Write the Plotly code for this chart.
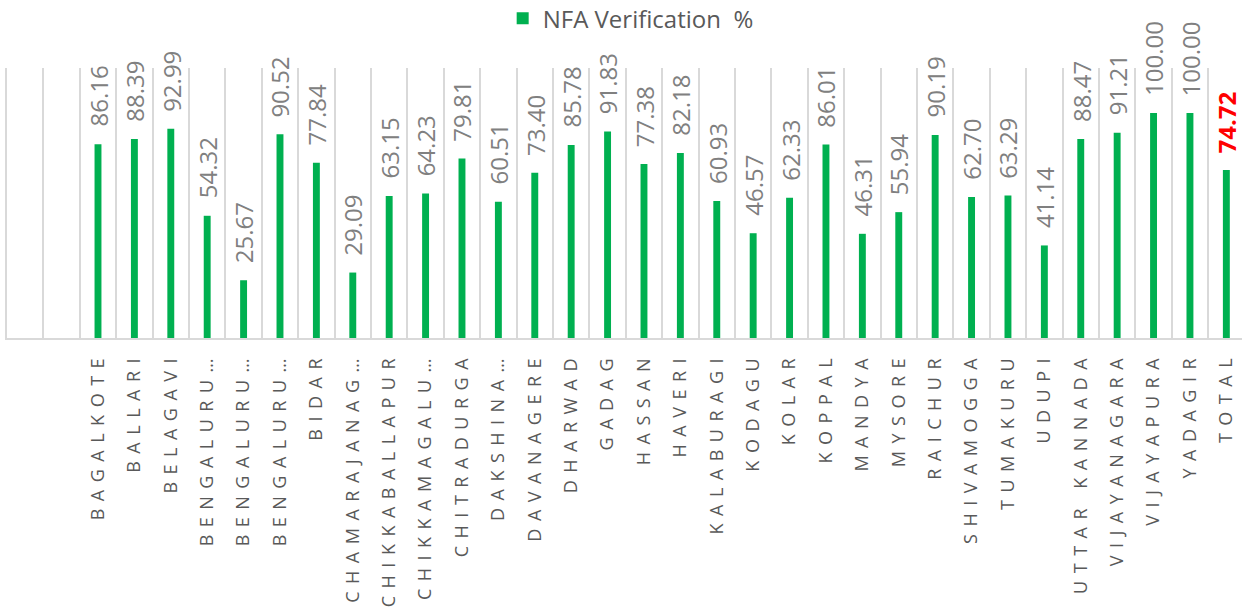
import plotly.graph_objects as go

categories = ["", " ", "BAGALKOTE", "BALLARI", "BELAGAVI", "BENGALURU…", "BENGALURU…", "BENGALURU…",
              "BIDAR", "CHAMARAJANAG…", "CHIKKABALLAPUR", "CHIKKAMAGALU…", "CHITRADURGA", "DAKSHINA…",
              "DAVANAGERE", "DHARWAD", "GADAG", "HASSAN", "HAVERI", "KALABURAGI", "KODAGU", "KOLAR",
              "KOPPAL", "MANDYA", "MYSORE", "RAICHUR", "SHIVAMOGGA", "TUMAKURU", "UDUPI",
              "UTTAR KANNADA", "VIJAYANAGARA", "VIJAYAPURA", "YADAGIR", "TOTAL"]
values = [None, None, 86.16, 88.39, 92.99, 54.32, 25.67, 90.52, 77.84, 29.09, 63.15, 64.23, 79.81,
          60.51, 73.40, 85.78, 91.83, 77.38, 82.18, 60.93, 46.57, 62.33, 86.01, 46.31, 55.94, 90.19,
          62.70, 63.29, 41.14, 88.47, 91.21, 100.00, 100.00, 74.72]
series_name = "NFA Verification  %"

keys = [f"k{i}" for i in range(len(categories))]
ticktext = [f'<span style="letter-spacing:7.5px">{c}</span>' for c in categories]

LABEL_SIZE = 24
LABEL_GAP = 17

fig = go.Figure()
fig.add_trace(go.Bar(
    x=keys, y=values, name=series_name, width=0.19,
    marker=dict(color="#00B050", line=dict(width=0)),
))

for k, c, v in zip(keys, categories, values):
    if v is None:
        continue
    is_total = c == "TOTAL"
    txt = f"{v:.2f}"
    ndig = sum(ch.isdigit() for ch in txt)
    est_w = (ndig * 0.572 + 0.27) * LABEL_SIZE
    fig.add_annotation(
        x=k, y=v, text=(f"<b>{txt}</b>" if is_total else txt),
        textangle=-90, showarrow=False, xanchor="center", yanchor="middle",
        yshift=LABEL_GAP + est_w / 2,
        font=dict(family="Open Sans", size=LABEL_SIZE,
                  color="#FF0000" if is_total else "#808080"),
    )

fig.update_layout(
    width=1242, height=614,
    margin=dict(l=7, r=0, t=68, b=276, autoexpand=False),
    plot_bgcolor="white", paper_bgcolor="white",
    bargap=0.8,
    showlegend=True,
    legend=dict(orientation="h", x=0.505, xanchor="center", yref="paper", y=1.266, yanchor="top",
                itemwidth=30, bgcolor="rgba(0,0,0,0)",
                font=dict(family="Open Sans", size=24, color="#595959")),
    xaxis=dict(type="category", tickmode="array", tickvals=keys, ticktext=ticktext,
               tickson="boundaries", showgrid=True, gridcolor="#D9D9D9", gridwidth=1.5,
               showline=True, linecolor="#D9D9D9", linewidth=1.5, ticks="", tickangle=-90,
               ticklabelstandoff=4, automargin=False,
               range=[-0.5, 33.43],
               tickfont=dict(family="Open Sans", size=18, color="#595959")),
    yaxis=dict(range=[0, 120], showgrid=False, showticklabels=False, zeroline=False,
               showline=True, linecolor="#D9D9D9", linewidth=1.5, automargin=False),
)

fig.write_html("out.html", config={"displayModeBar": False},
               post_script="document.body.style.margin='0';")
